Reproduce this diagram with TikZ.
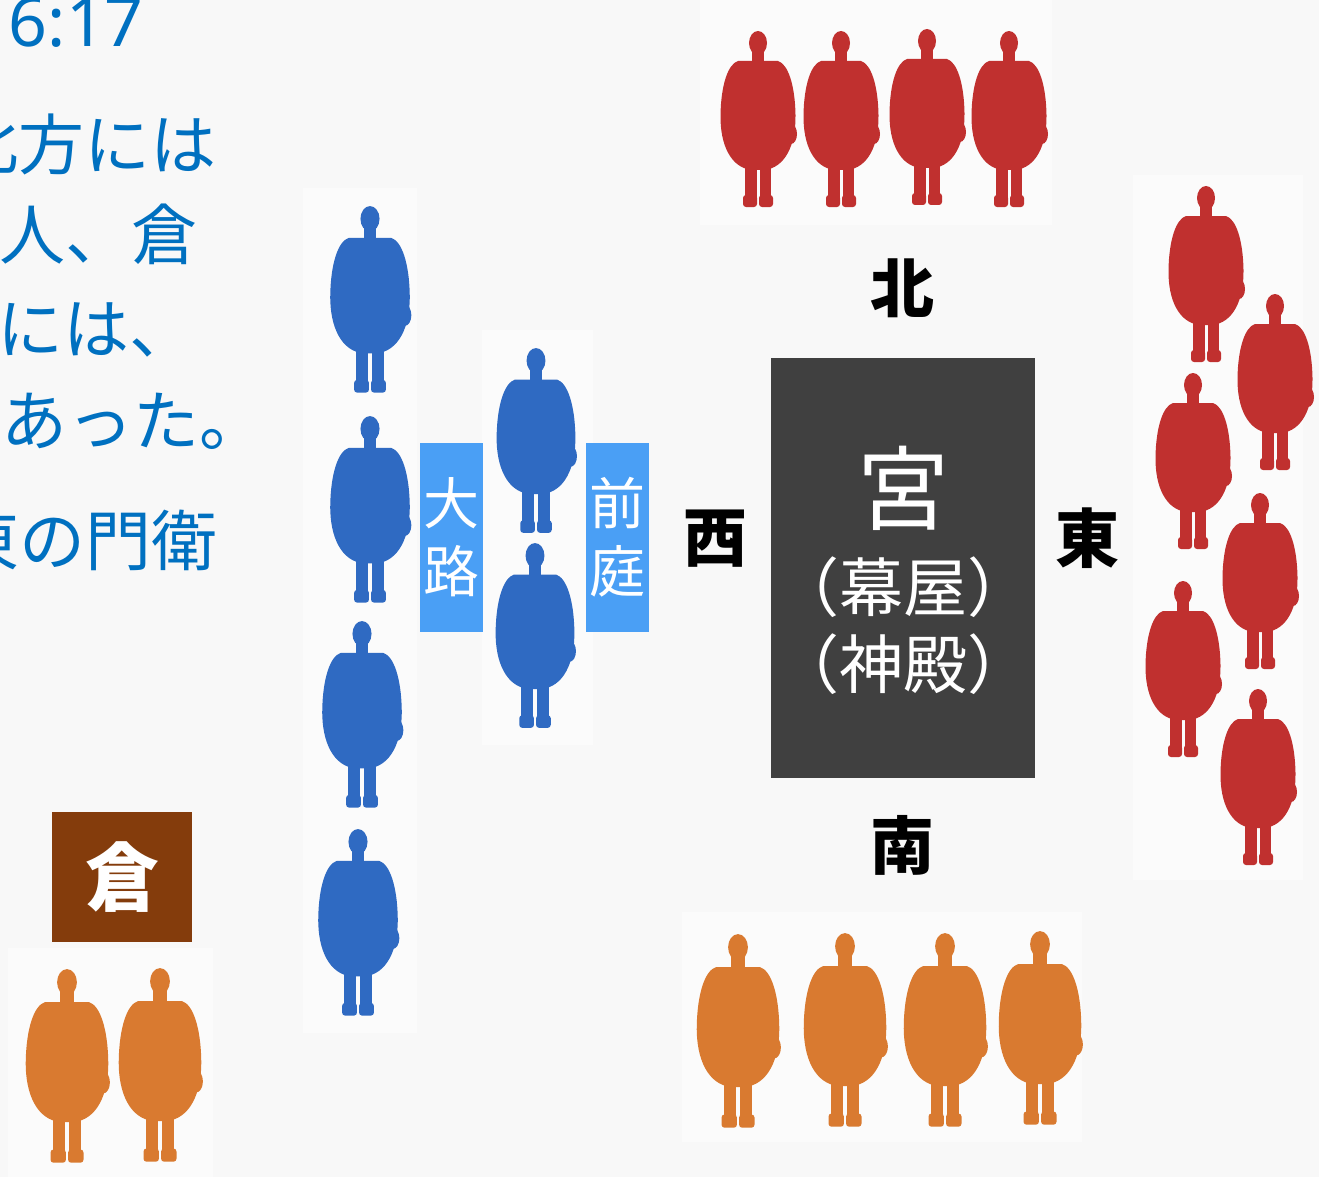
\documentclass[tikz,border=0pt]{standalone}
\usepackage{fontspec}
\newfontfamily\jp{Noto Sans CJK JP}
\newfontfamily\latn{Noto Sans}

\definecolor{bg}{HTML}{F8F8F8}
\definecolor{patch}{HTML}{FBFBFB}
\definecolor{txtblue}{HTML}{0070C0}
\definecolor{lblblue}{HTML}{4A9FF5}
\definecolor{darkbox}{HTML}{404040}
\definecolor{storebrown}{HTML}{843C0C}
\definecolor{pred}{HTML}{C0302F}
\definecolor{pblue}{HTML}{2F6AC2}
\definecolor{porange}{HTML}{D97A30}

\tikzset{
  % a standing robed figure, head top at the origin, about 177 units tall
  pics/person/.style={code={
    \fill[#1] (0,13) ellipse [x radius=9, y radius=12];
    \fill[#1] (-6,22) rectangle (6,36);
    \fill[#1] (-20,31) .. controls (-30,34) and (-37,55) .. (-37.5,85)
              .. controls (-38,115) and (-27,138) .. (-6,140) -- (6,140)
              .. controls (27,138) and (38,115) .. (37.5,85)
              .. controls (37,55) and (30,34) .. (20,31) -- cycle;
    \fill[#1] (33,104) ellipse [x radius=6, y radius=10];
    \fill[#1] (-13,128) rectangle (-1.5,170);
    \fill[#1] (1.5,128) rectangle (13,170);
    \fill[#1, rounded corners=3] (-15,165) rectangle (-1,177);
    \fill[#1, rounded corners=3] (1,165) rectangle (15,177);
  }},
  bluetxt/.style={text=txtblue, inner sep=0pt, font=\jp\fontsize{66}{66}\selectfont},
  compass/.style={text=black, inner sep=0pt, font=\jp\bfseries\fontsize{64}{64}\selectfont},
  lblbox/.style={fill=lblblue, text=white, minimum width=63, minimum height=189,
                 inner sep=0pt, align=center, font=\jp\fontsize{56}{68}\selectfont},
  boxtxt/.style={text=white, inner sep=0pt},
}

\begin{document}
\begin{tikzpicture}[x=1pt,y=-1pt]
  \path[use as bounding box, fill=bg] (0,0) rectangle (1319,1177);
  \clip (0,0) rectangle (1319,1177);

  % light panels behind the groups of figures
  \fill[patch] (700,0) rectangle (1052,225);
  \fill[patch] (1133,175) rectangle (1303,880);
  \fill[patch] (303,188) rectangle (417,1033);
  \fill[patch] (482,330) rectangle (593,745);
  \fill[patch] (682,912) rectangle (1082,1142);
  \fill[patch] (8,948) rectangle (213,1177);

  % running text at the left edge
  \node[text=txtblue, inner sep=0pt, font=\latn\fontsize{68}{68}\selectfont,
        anchor=base east] (verse) at (144,47) {6:17};
  \node[bluetxt, anchor=east] (line1) at (217,144) {北方には};
  \node[bluetxt, anchor=east] (line2) at (198,234) {人、倉};
  \node[bluetxt, anchor=east] (line3) at (196,330) {には、};
  \node[bluetxt, anchor=east] (line4) at (266,421) {あった。};
  \node[bluetxt, anchor=east] (line5) at (218,540) {東の門衛};

  % the tabernacle
  \node[fill=darkbox, minimum width=264, minimum height=420, inner sep=0pt] (palace) at (903,568) {};
  \node[boxtxt, font=\jp\fontsize{92}{92}\selectfont] (miya) at (903,488) {宮};
  \node[boxtxt, font=\jp\fontsize{64}{64}\selectfont] (makuya) at (903,587) {（幕屋）};
  \node[boxtxt, font=\jp\fontsize{64}{64}\selectfont] (shinden) at (903,664) {（神殿）};

  % compass points
  \node[compass] (north) at (902,288) {北};
  \node[compass] (west) at (715,539) {西};
  \node[compass] (east) at (1087,538) {東};
  \node[compass] (south) at (902,845) {南};

  % road and court labels
  \node[lblbox] (oji) at (451.5,537.5) {大\\路};
  \node[lblbox] (zentei) at (617.5,537.5) {前\\庭};

  % storehouse
  \node[fill=storebrown, minimum width=140, minimum height=130, inner sep=0pt,
        text=white, font=\jp\bfseries\fontsize{74}{74}\selectfont] (kura) at (122,877) {倉};

  % north gatekeepers
  \foreach \x/\y in {758/30, 841/30, 927/28, 1009/30}
    \pic at (\x,\y) {person=pred};
  % east gatekeepers
  \foreach \x/\y in {1206/185, 1275/293, 1193/372, 1260/492, 1183/580, 1258/688}
    \pic at (\x,\y) {person=pred};
  % west gatekeepers on the road
  \foreach \x/\y in {370/205, 370/415, 362/620, 358/828}
    \pic[scale=1.06] at (\x,\y) {person=pblue};
  % gatekeepers in the court
  \foreach \x/\y in {536/347, 535/542}
    \pic[scale=1.05] at (\x,\y) {person=pblue};
  % south gatekeepers
  \foreach \x/\y in {738/933, 845/932, 945/932, 1040/930}
    \pic[scale=1.1] at (\x,\y) {person=porange};
  % storehouse keepers
  \foreach \x/\y in {67/968, 160/967}
    \pic[scale=1.1] at (\x,\y) {person=porange};
\end{tikzpicture}
\end{document}
